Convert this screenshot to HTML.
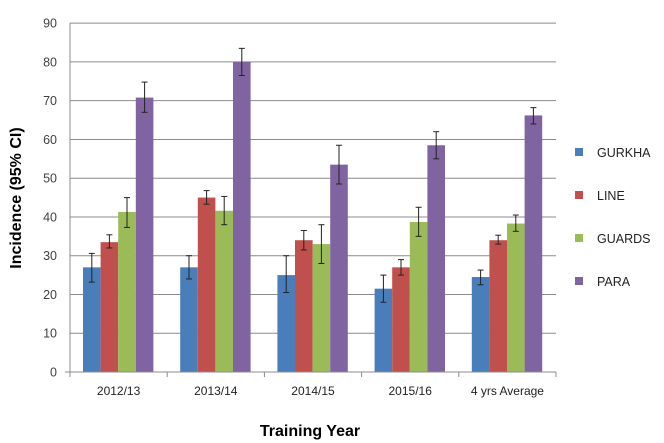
<!DOCTYPE html>
<html><head><style>body{margin:0;background:#fff}svg{display:block}text{font-family:"Liberation Sans",sans-serif}</style></head><body>
<svg width="664" height="443" xmlns="http://www.w3.org/2000/svg">
<g id="g"></g>
<script>
const s=document.getElementById('g');const NS='http://www.w3.org/2000/svg';
function el(t,a,txt){const e=document.createElementNS(NS,t);for(const k in a)e.setAttribute(k,a[k]);if(txt!=null)e.textContent=txt;s.appendChild(e);return e;}
const y0=372,k=3.876,x0=70,x1=556,gw=(x1-x0)/5,bw=17.6;
const Y=v=>y0-v*k;
for(let v=10;v<=90;v+=10)el('line',{x1:x0,x2:x1,y1:Y(v),y2:Y(v),stroke:'#8c8c8c','stroke-width':1});
for(let v=0;v<=90;v+=10)el('text',{x:57,y:Y(v)+4.5,'text-anchor':'end','font-size':12.5,fill:'#404040'},v);
const cols=['#4a7ebb','#c0504d','#9bbb59','#8064a2'];
const d=[[[27,23.2,30.6],[33.5,32,35.4],[41.3,37.3,45],[70.8,67,74.8]],
[[27,24,30],[45,43.3,46.8],[41.6,38,45.3],[80,76.5,83.5]],
[[25,20.5,30],[34,31.5,36.5],[33,28,38],[53.5,48.5,58.5]],
[[21.5,18,25],[27,25,29],[38.7,35,42.5],[58.5,55,62]],
[[24.5,22.5,26.3],[34,33,35.3],[38.3,36.3,40.5],[66.2,64,68.2]]];
const labs=['2012/13','2013/14','2014/15','2015/16','4 yrs Average'];
d.forEach((g,i)=>{const gx=x0+i*gw+13;g.forEach((b,j)=>{const x=gx+j*bw;el('rect',{x:x,y:Y(b[0]),width:bw,height:b[0]*k,fill:cols[j]});
const cx=x+bw/2;el('line',{x1:cx,x2:cx,y1:Y(b[1]),y2:Y(b[2]),stroke:'#222'});
el('line',{x1:cx-3,x2:cx+3,y1:Y(b[1]),y2:Y(b[1]),stroke:'#222'});el('line',{x1:cx-3,x2:cx+3,y1:Y(b[2]),y2:Y(b[2]),stroke:'#222'});});
el('text',{x:x0+i*gw+gw/2,y:395,'text-anchor':'middle','font-size':12,fill:'#222'},labs[i]);});
el('line',{x1:x0,x2:x1,y1:y0,y2:y0,stroke:'#8c8c8c'});
el('line',{x1:x0,x2:x0,y1:Y(90),y2:y0+5,stroke:'#8c8c8c'});
for(let i=0;i<=5;i++)el('line',{x1:x0+i*gw,x2:x0+i*gw,y1:y0,y2:y0+5,stroke:'#8c8c8c'});
el('line',{x1:x0-5,x2:x0,y1:y0,y2:y0,stroke:'#8c8c8c'});
['GURKHA','LINE','GUARDS','PARA'].forEach((n,i)=>{const yy=[152,195,238,281][i];el('rect',{x:575,y:yy-4,width:8,height:8,fill:cols[i]});el('text',{x:597,y:yy+5,'font-size':12.5,fill:'#222'},n);});
el('text',{x:310,y:436,'text-anchor':'middle','font-size':16,'font-weight':'bold',fill:'#000'},'Training Year');
el('text',{x:0,y:0,transform:'translate(21,198) rotate(-90)','text-anchor':'middle','font-size':16,'font-weight':'bold',fill:'#000'},'Incidence (95% CI)');
</script>
</svg></body></html>
